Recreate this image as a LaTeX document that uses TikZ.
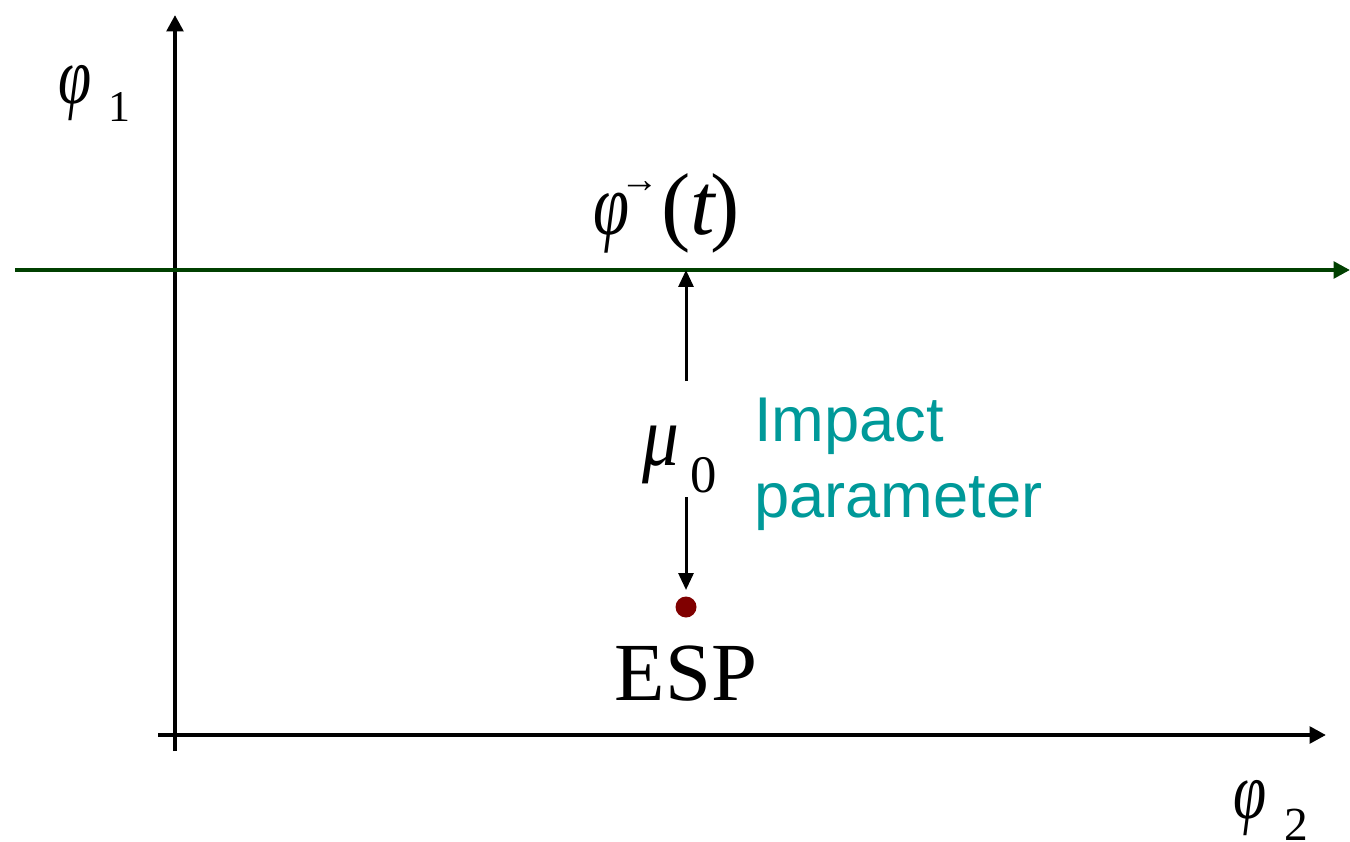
\documentclass[tikz,border=0pt]{standalone}
\usepackage{graphicx}
\usepackage{fontspec}
\setmainfont{Liberation Serif}
\newfontfamily\labelsans{Liberation Sans}
\usetikzlibrary{arrows.meta}
\definecolor{trackgreen}{RGB}{0,64,0}
\definecolor{impactteal}{RGB}{0,153,153}
\definecolor{espred}{RGB}{128,0,0}
\newcommand{\slimphi}{\scalebox{0.74}[1]{φ}}
\tikzset{
  axisline/.style={line width=2.5pt,-{Triangle[width=0.33cm,length=0.33cm]}},
  muarrow/.style={line width=1.7pt,-{Triangle[width=0.3cm,length=0.34cm]}},
  greek/.style={font=\fontsize{46}{50}\selectfont\itshape},
}

\begin{document}
\begin{tikzpicture}
            \useasboundingbox (0,0) rectangle (27,16.82);
            % axes
            \coordinate (vbottom) at (3.5,1.8);
            \coordinate (vtop) at (3.5,16.52);
            \coordinate (hleft) at (3.16,2.12);
            \coordinate (hright) at (26.52,2.12);
            \draw[axisline] (vbottom)--(vtop);
            \draw[axisline] (hleft)--(hright);
            % trajectory
            \coordinate (trackstart) at (0.3,11.42);
            \coordinate (trackend) at (27,11.42);
            \coordinate (hit) at (13.72,11.42);
            \draw[axisline,draw=trackgreen,fill=trackgreen,line width=2.8pt] (trackstart)--(trackend);
            % labels
            \node[greek,anchor=base west,inner sep=0] (phione) at (1.16,14.75) {\slimphi\kern 0.34cm\raisebox{-0.37cm}{\upshape\fontsize{25}{27}\selectfont 1}};
            \node[greek,anchor=base west,inner sep=0] (phitwo) at (24.66,0.45) {\slimphi\kern 0.36cm\raisebox{-0.43cm}{\upshape\fontsize{27}{29}\selectfont 2}};
            \node[greek,anchor=base west,inner sep=0,font=\fontsize{50}{54}\selectfont\itshape] (phit) at (11.86,12.12) {\slimphi\rlap{\raisebox{0.84cm}{\kern-0.18cm\upshape\fontsize{22}{22}\selectfont →}}\kern 0.65cm\upshape(\kern -0.01cm\itshape t\kern -0.1cm\upshape)};
            \node[greek,anchor=base west,inner sep=0,font=\fontsize{49}{52}\selectfont\itshape] (mu) at (12.84,7.52) {\scalebox{0.85}[1]{μ}\kern 0.22cm\raisebox{-0.54cm}{\upshape\fontsize{30}{32}\selectfont 0}};
            \node[anchor=base west,inner sep=0,align=left,text=impactteal,font=\labelsans\fontsize{36}{43}\selectfont] (impact) at (15.08,6.48) {Impact\\parameter};
            % saddle point
            \node[circle,fill=espred,minimum size=0.42cm,inner sep=0] (espdot) at (13.72,4.68) {};
            \node[anchor=base,inner sep=0,font=\fontsize{47}{50}\selectfont] (esp) at (13.72,2.82) {ESP};
            \coordinate (muup) at (13.72,9.2);
            \coordinate (mudown) at (13.72,6.88);
            \coordinate (dottop) at (13.72,5.02);
            \draw[muarrow] (muup)--(hit);
            \draw[muarrow] (mudown)--(dottop);
        \end{tikzpicture}
\end{document}
